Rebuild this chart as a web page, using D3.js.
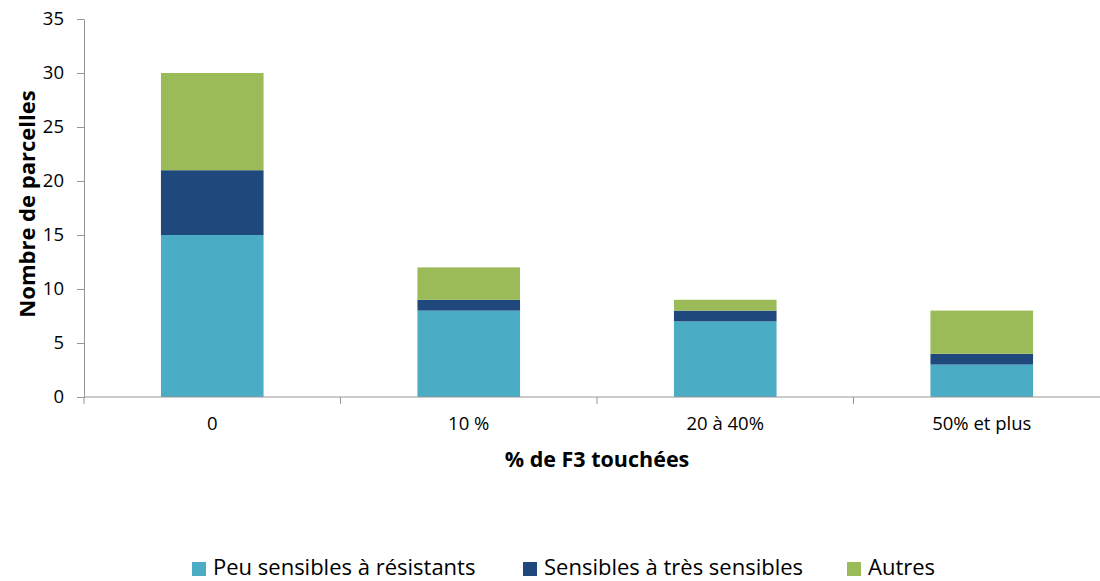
<!DOCTYPE html>
<html><head><meta charset="utf-8">
<script src="https://cdn.jsdelivr.net/npm/d3@7"></script>
<style>body{margin:0;background:#fff}svg{display:block}text{font-family:"Open Sans",sans-serif;fill:#000}</style>
</head><body><svg id="c" width="1100" height="581"></svg>
<script>
const categories = ["0", "10 %", "20 à 40%", "50% et plus"];
const seriesNames = ["Peu sensibles à résistants", "Sensibles à très sensibles", "Autres"];
const peuSensibles = [15, 8, 7, 3];
const sensibles = [6, 1, 1, 1];
const autres = [9, 3, 1, 4];
const yTicks = [0, 5, 10, 15, 20, 25, 30, 35];
const colors = ["#4BACC6", "#1F497D", "#9BBB59"];

(function () {
const svg = d3.select("#c");
const mL = 84, mR = 1110, mT = 19, mB = 397;
const x = d3.scaleBand().domain(categories).range([mL, mR]);
const y = d3.scaleLinear().domain([0, 35]).range([mB, mT]);

const rows = categories.map((c, i) => ({cat: c, s0: peuSensibles[i], s1: sensibles[i], s2: autres[i]}));
const stack = d3.stack().keys(["s0", "s1", "s2"])(rows);

const bw = x.bandwidth() * 0.4;
svg.append("g").selectAll("g").data(stack).join("g")
  .attr("fill", (d, i) => colors[i])
  .selectAll("rect").data(d => d).join("rect")
  .attr("x", d => x(d.data.cat) + (x.bandwidth() - bw) / 2)
  .attr("width", bw)
  .attr("y", d => y(d[1]))
  .attr("height", d => y(d[0]) - y(d[1]));

// y axis
const ya = svg.append("g").attr("transform", `translate(${mL},0)`)
  .call(d3.axisLeft(y).tickValues(yTicks).tickSize(7).tickPadding(13).tickSizeOuter(0));
ya.select(".domain").attr("stroke", "#969696");
ya.selectAll(".tick line").attr("stroke", "#969696");
ya.selectAll("text").style("font-size", "18.5px").style("font-family", "Open Sans").attr("fill", "#000");

// x axis
const xa = svg.append("g").attr("transform", `translate(0,${mB})`);
xa.append("line").attr("x1", mL).attr("x2", mR).attr("stroke", "#969696");
const bounds = categories.map(c => x(c)).concat([mR]);
xa.selectAll("line.tk").data(bounds).join("line").attr("class", "tk")
  .attr("x1", d => d).attr("x2", d => d).attr("y1", 0).attr("y2", 7).attr("stroke", "#969696");
xa.selectAll("text").data(categories).join("text")
  .attr("x", d => x(d) + x.bandwidth() / 2).attr("y", 33)
  .attr("text-anchor", "middle").style("font-size", "18.5px").text(d => d);

// titles
svg.append("text").attr("x", 597).attr("y", 467).attr("text-anchor", "middle")
  .style("font-size", "21.5px").style("font-weight", "bold").text("% de F3 touchées");
svg.append("text").attr("transform", "translate(35,204) rotate(-90)").attr("text-anchor", "middle")
  .style("font-size", "22px").style("font-weight", "bold").text("Nombre de parcelles");

// legend
const legX = [192, 523, 847];
const lg = svg.append("g").selectAll("g").data(seriesNames).join("g")
  .attr("transform", (d, i) => `translate(${legX[i]},562)`);
lg.append("rect").attr("width", 14).attr("height", 14).attr("fill", (d, i) => colors[i]);
lg.append("text").attr("x", 21).attr("y", 13).style("font-size", "22px").text(d => d);
})();
</script></body></html>
